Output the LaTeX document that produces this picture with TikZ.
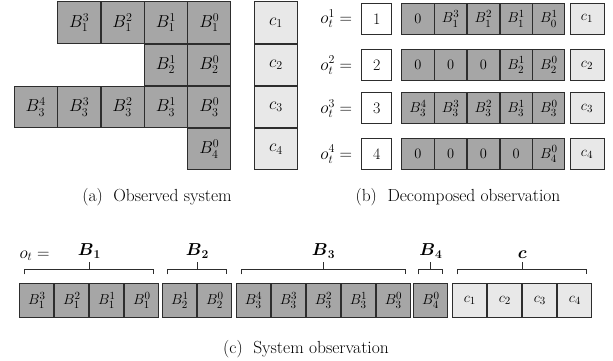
\documentclass[tikz,border=0pt]{standalone}
\usepackage{amsmath}
\usepackage{amssymb}
\usetikzlibrary{positioning, calc}

\definecolor{bgray}{RGB}{166,166,166}
\definecolor{cgray}{RGB}{232,232,232}
\definecolor{edge}{RGB}{45,45,45}

\tikzset{
    bcell/.style={draw=edge, fill=bgray, line width=0.9pt, inner sep=0pt, outer sep=0pt, font=\fontsize{18}{20}\selectfont},
    ccell/.style={bcell, fill=cgray},
    bigcell/.style={minimum width=42.9pt, minimum height=41.6pt},
    midcell/.style={minimum width=32.2pt, minimum height=31pt, font=\fontsize{15.5}{18}\selectfont},
    smallcell/.style={minimum width=34.1pt, minimum height=34pt, font=\fontsize{15.5}{18}\selectfont},
    numbox/.style={draw=edge, fill=white, line width=0.9pt, minimum width=30pt, minimum height=31pt, inner sep=0pt, outer sep=0pt, font=\fontsize{16}{18}\selectfont},
    caption/.style={font=\fontsize{17.5}{20}\selectfont},
    brace/.style={draw=edge, line width=0.9pt},
    grouplabel/.style={font=\fontsize{17.5}{20}\selectfont}
}

\begin{document}
\begin{tikzpicture}[x=1pt,y=-1pt]
    \useasboundingbox (0,0) rectangle (613,360);

    % (a) observed system
    \node[bcell,bigcell] (a13) at (79.1,22.7) {$B_1^3$};
    \node[bcell,bigcell] (a12) at (122.5,22.7) {$B_1^2$};
    \node[bcell,bigcell] (a11) at (165.9,22.7) {$B_1^1$};
    \node[bcell,bigcell] (a10) at (209.3,22.7) {$B_1^0$};
    \node[bcell,bigcell] (a21) at (165.9,64.8) {$B_2^1$};
    \node[bcell,bigcell] (a20) at (209.3,64.8) {$B_2^0$};
    \node[bcell,bigcell] (a34) at (35.7,106.9) {$B_3^4$};
    \node[bcell,bigcell] (a33) at (79.1,106.9) {$B_3^3$};
    \node[bcell,bigcell] (a32) at (122.5,106.9) {$B_3^2$};
    \node[bcell,bigcell] (a31) at (165.9,106.9) {$B_3^1$};
    \node[bcell,bigcell] (a30) at (209.3,106.9) {$B_3^0$};
    \node[bcell,bigcell] (a40) at (209.3,149.0) {$B_4^0$};
    \foreach \i/\y in {1/22.7,2/64.8,3/106.9,4/149.0}
        \node[ccell,bigcell] (ac\i) at (276,\y) {$c_\i$};
    \node[caption] (capa) at (157,197) {(a)\ \ Observed system};

    % (b) decomposed observation
    \foreach \i/\y in {1/18.8,2/65.2,3/108.4,4/154.2} {
        \node[numbox] (num\i) at (376.7,\y) {\i};
        \node[font=\fontsize{17}{20}\selectfont, left=6pt of num\i] (o\i) {$o_t^\i =$};
        \node[ccell,midcell,minimum width=34pt] (bc\i) at (587,\y) {$c_\i$};
    }
    \foreach \x/\t [count=\k] in {418/0,450.7/B_1^3,483.4/B_1^2,516.1/B_1^1,548.8/B_0^1}
        \node[bcell,midcell] (b1\k) at (\x,18.8) {$\t$};
    \foreach \x/\t [count=\k] in {418/0,450.7/0,483.4/0,516.1/B_2^1,548.8/B_2^0}
        \node[bcell,midcell] (b2\k) at (\x,65.2) {$\t$};
    \foreach \x/\t [count=\k] in {418/B_3^4,450.7/B_3^3,483.4/B_3^2,516.1/B_3^1,548.8/B_3^0}
        \node[bcell,midcell] (b3\k) at (\x,108.4) {$\t$};
    \foreach \x/\t [count=\k] in {418/0,450.7/0,483.4/0,516.1/0,548.8/B_4^0}
        \node[bcell,midcell] (b4\k) at (\x,154.2) {$\t$};
    \node[caption] (capb) at (458,197) {(b)\ \ Decomposed observation};

    % (c) system observation
    \foreach \x/\t [count=\k] in {36.8/B_1^3,71.8/B_1^2,106.8/B_1^1,141.8/B_1^0}
        \node[bcell,smallcell] (cb1\k) at (\x,300.3) {$\t$};
    \foreach \x/\t [count=\k] in {179.8/B_2^1,214.8/B_2^0}
        \node[bcell,smallcell] (cb2\k) at (\x,300.3) {$\t$};
    \foreach \x/\t [count=\k] in {253.5/B_3^4,288.5/B_3^3,323.5/B_3^2,358.5/B_3^1,393.5/B_3^0}
        \node[bcell,smallcell] (cb3\k) at (\x,300.3) {$\t$};
    \node[bcell,smallcell] (cb41) at (430.8,300.3) {$B_4^0$};
    \foreach \x [count=\k] in {469.8,504.8,539.8,574.8}
        \node[ccell,smallcell] (cc\k) at (\x,300.3) {$c_\k$};

    % brackets
    \foreach \a/\b/\l in {cb11/cb14/1,cb21/cb22/2,cb31/cb35/3,cb41/cb41/4,cc1/cc4/c} {
        \coordinate (l\l) at ($(\a.north west)+(5,-9)$);
        \coordinate (r\l) at ($(\b.north east)+(-5,-9)$);
        \draw[brace] (l\l) -- ++(0,-4.7) -- ($(r\l)+(0,-4.7)$) -- (r\l);
        \draw[brace] ($(l\l)!0.5!(r\l)+(0,-4.7)$) -- ++(0,-7.6) coordinate (t\l);
    }
    \node[grouplabel, above=0pt of t1] (g1) {$\boldsymbol{B}_{\mathbf 1}$};
    \node[grouplabel, above=0pt of t2] (g2) {$\boldsymbol{B}_{\mathbf 2}$};
    \node[grouplabel, above=0pt of t3] (g3) {$\boldsymbol{B}_{\mathbf 3}$};
    \node[grouplabel, above=0pt of t4] (g4) {$\boldsymbol{B}_{\mathbf 4}$};
    \node[grouplabel, above=0pt of tc] (gc) {$\boldsymbol{c}$};
    \node[font=\fontsize{17}{20}\selectfont, anchor=base west] (ot) at (16,258) {$o_t =$};
    \node[caption] (capc) at (306,349) {(c)\ \ System observation};
\end{tikzpicture}
\end{document}
